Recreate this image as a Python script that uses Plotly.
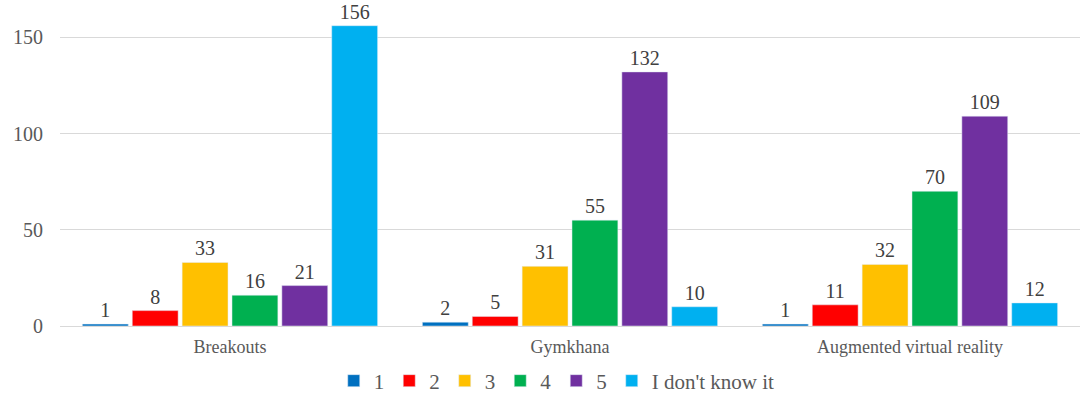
import plotly.graph_objects as go

categories = ["Breakouts", "Gymkhana", "Augmented virtual reality"]
series_names = ["1", "2", "3", "4", "5", "I don't know it"]
values = {
    "1": [1, 2, 1],
    "2": [8, 5, 11],
    "3": [33, 31, 32],
    "4": [16, 55, 70],
    "5": [21, 132, 109],
    "I don't know it": [156, 10, 12],
}
colors = ["#0070C0", "#FF0000", "#FFC000", "#00B050", "#7030A0", "#00B0F0"]

SERIF = "Times New Roman, Liberation Serif, serif"

fig = go.Figure()
for name, c in zip(series_names, colors):
    fig.add_trace(go.Bar(
        x=categories, y=values[name], name=name, marker_color=c,
        text=values[name], textposition="outside", cliponaxis=False,
        textfont=dict(family=SERIF, size=20, color="#404040"),
    ))

fig.update_layout(
    width=1083, height=405,
    margin=dict(l=60, r=3, t=18, b=79, autoexpand=False),
    barmode="group", bargap=0.12, bargroupgap=0.08,
    plot_bgcolor="white", paper_bgcolor="white",
    font=dict(family=SERIF, size=17, color="#595959"),
    legend=dict(orientation="h", x=0.487, xanchor="center", y=-0.112, yanchor="top",
                font=dict(family=SERIF, size=21, color="#595959"), itemwidth=30,
                tracegroupgap=0),
    xaxis=dict(showline=True, linecolor="#D9D9D9", tickfont=dict(size=18), ticklabelstandoff=4),
    yaxis=dict(range=[0, 160], tickvals=[0, 50, 100, 150], showgrid=True,
               gridcolor="#D9D9D9", zeroline=False, tickfont=dict(size=20), ticklabelstandoff=16),
)
fig.write_html("out.html")
